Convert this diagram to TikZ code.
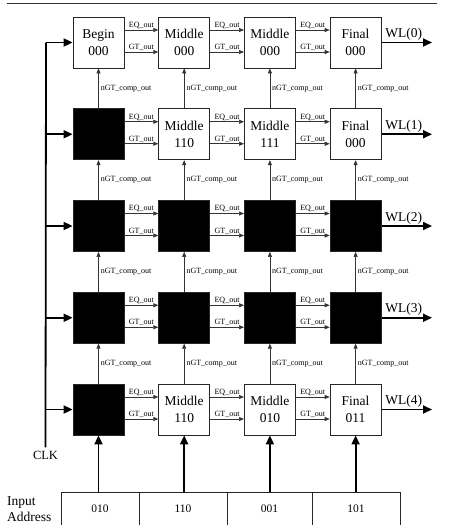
\documentclass[tikz,border=0pt]{standalone}
\usepackage{fontspec}
\setmainfont{Liberation Serif}
\usepackage{tikz}
\usetikzlibrary{arrows.meta, positioning}

\begin{document}
\begin{tikzpicture}[
    x=1pt, y=-1pt,
    cellbox/.style={rectangle, draw=black!85, fill=white, line width=0.8pt, minimum size=51pt, inner sep=0pt, align=center, font=\fontsize{13.5}{17}\selectfont},
    blackbox/.style={cellbox, fill=black},
    addrcell/.style={rectangle, draw=black!85, line width=0.8pt, anchor=north, minimum height=40pt, text height=8pt, text depth=8pt, font=\fontsize{11.5}{13}\selectfont},
    lbl/.style={font=\fontsize{8}{9}\selectfont, inner sep=1pt},
    sigline/.style={draw=black!80, line width=0.6pt, -{Triangle[length=5pt, width=4pt]}},
    busline/.style={draw=black, line width=1.8pt},
    bigarrow/.style={busline, -{Triangle[length=9pt, width=8pt]}}
]
    \useasboundingbox (0,0) rectangle (448,525);
    \draw[draw=black!80, line width=0.8pt] (7,3) -- (437,3);

    % Comparator array, row 0 at the top
    \node[cellbox] (B00) at (98.5, 42.5) {Begin\\000};
    \node[cellbox] (B01) at (184.2, 42.5) {Middle\\000};
    \node[cellbox] (B02) at (269.9, 42.5) {Middle\\000};
    \node[cellbox] (B03) at (355.6, 42.5) {Final\\000};

    \node[blackbox] (B10) at (98.5, 134.25) {};
    \node[cellbox] (B11) at (184.2, 134.25) {Middle\\110};
    \node[cellbox] (B12) at (269.9, 134.25) {Middle\\111};
    \node[cellbox] (B13) at (355.6, 134.25) {Final\\000};

    \node[blackbox] (B20) at (98.5, 226) {};
    \node[blackbox] (B21) at (184.2, 226) {};
    \node[blackbox] (B22) at (269.9, 226) {};
    \node[blackbox] (B23) at (355.6, 226) {};

    \node[blackbox] (B30) at (98.5, 317.75) {};
    \node[blackbox] (B31) at (184.2, 317.75) {};
    \node[blackbox] (B32) at (269.9, 317.75) {};
    \node[blackbox] (B33) at (355.6, 317.75) {};

    \node[blackbox] (B40) at (98.5, 409.5) {};
    \node[cellbox] (B41) at (184.2, 409.5) {Middle\\110};
    \node[cellbox] (B42) at (269.9, 409.5) {Middle\\010};
    \node[cellbox] (B43) at (355.6, 409.5) {Final\\011};

    % Clock bus and word line ends
    \node[font=\fontsize{12.5}{14}\selectfont] (CLK) at (45.5, 455) {CLK};
    \coordinate (BUS) at (46, 0);
    \coordinate (WLEND) at (432, 0);
    \draw[busline] (BUS |- B00.west) -- (CLK.north);

    % Input address register
    \node[addrcell, minimum width=78pt] (A0) at (100, 492) {010};
    \node[addrcell, minimum width=88pt] (A1) at (183, 492) {110};
    \node[addrcell, minimum width=85pt] (A2) at (269.5, 492) {001};
    \node[addrcell, minimum width=88pt] (A3) at (356, 492) {101};
    \node[anchor=west, align=left, inner sep=0pt, font=\fontsize{13.5}{16}\selectfont] (INADDR) at (7, 509) {Input\\Address};

    % Row signals
    \foreach \r in {0,...,4} {
        \foreach \c/\n in {0/1, 1/2, 2/3} {
            \draw[sigline] ([yshift=12.5pt]B\r\c.east) -- node[above, lbl] {EQ\_out} ([yshift=12.5pt]B\r\n.west);
            \draw[sigline] ([yshift=-9.5pt]B\r\c.east) -- node[above, lbl] {GT\_out} ([yshift=-9.5pt]B\r\n.west);
        }
        \draw[bigarrow] (BUS |- B\r0.west) -- (B\r0.west);
        \draw[bigarrow] (B\r3.east) -- node[above, inner sep=1pt, xshift=-3pt, font=\fontsize{13.5}{15}\selectfont] {WL(\r)} (WLEND |- B\r3.east);
    }

    % Column signals
    \foreach \r/\s in {1/0, 2/1, 3/2, 4/3} {
        \foreach \c in {0,...,3} {
            \draw[sigline] (B\r\c.north) -- node[right, lbl, inner sep=2pt] {nGT\_comp\_out} (B\s\c.south);
        }
    }
    \foreach \c in {0,...,3} {
        \draw[bigarrow] (B4\c.south |- A\c.north) -- (B4\c.south);
    }
\end{tikzpicture}
\end{document}
